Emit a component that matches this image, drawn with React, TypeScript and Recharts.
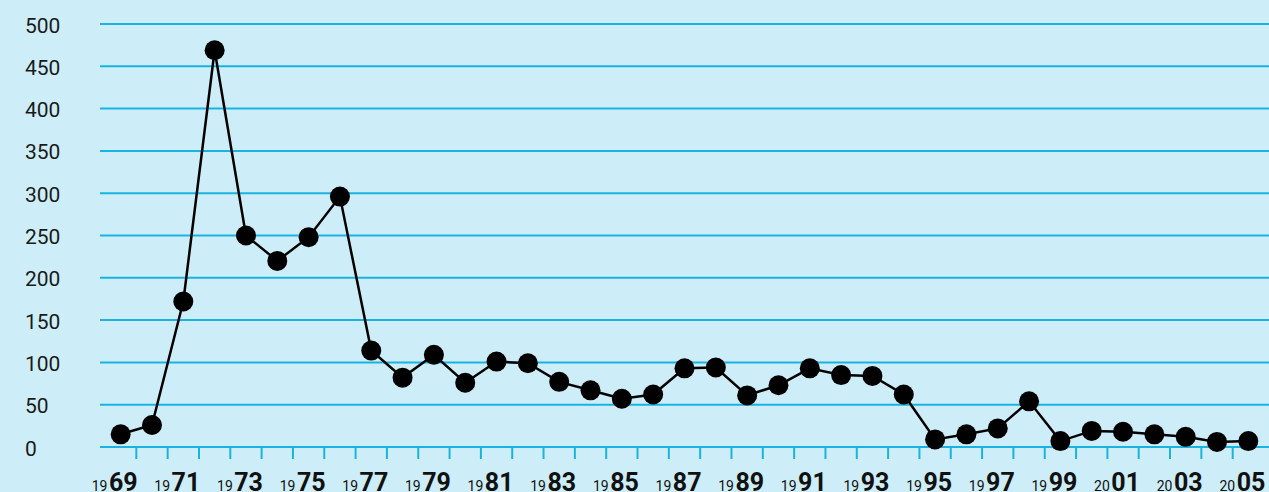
import { LineChart, Line, XAxis, YAxis, CartesianGrid } from "recharts";

const years = [
  1969, 1970, 1971, 1972, 1973, 1974, 1975, 1976, 1977, 1978, 1979, 1980, 1981,
  1982, 1983, 1984, 1985, 1986, 1987, 1988, 1989, 1990, 1991, 1992, 1993, 1994,
  1995, 1996, 1997, 1998, 1999, 2000, 2001, 2002, 2003, 2004, 2005,
];
const values = [
  15, 26, 172, 469, 250, 220, 248, 296, 114, 82, 109, 76, 101, 99, 77, 67, 57,
  62, 93, 94, 61, 73, 93, 85, 84, 62, 9, 15, 22, 54, 7, 19, 18, 15, 12, 6, 7,
];
const yTicks = [0, 50, 100, 150, 200, 250, 300, 350, 400, 450, 500];
// boundaries between years get a tick mark, odd years get a label
const boundaryTicks = years.slice(0, -1).map((y) => y + 0.5);
const labelYears = years.filter((y) => y % 2 === 1);

const data = years.map((year, i) => ({ year, value: values[i] }));

const BG = "#cdeef8";
const GRID = "#1ab3e0";
const INK = "#111";
const FONT = "Roboto, 'Noto Sans', sans-serif";

function XTick(props: any) {
  const { x, y, payload } = props;
  const v = payload.value as number;
  if (!Number.isInteger(v)) {
    return <line x1={x} x2={x} y1={y} y2={y + 12} stroke={GRID} strokeWidth={2} />;
  }
  const s = String(v);
  return (
    <text x={x + 17} y={y + 44} textAnchor="end" fill={INK} fontFamily={FONT}>
      <tspan fontSize={14}>{s.slice(0, 2)}</tspan>
      <tspan fontSize={25} fontWeight={700} dx={1.5}>
        {s.slice(2)}
      </tspan>
    </text>
  );
}

function YTick(props: any) {
  const { y, payload } = props;
  return (
    <text x={25} y={y} dy={8.5} textAnchor="start" fill="#1a1a1a" fontSize={21} fontFamily={FONT}>
      {payload.value}
    </text>
  );
}

export default function App() {
  return (
    <div style={{ position: "absolute", left: 0, top: 0, width: 1269, height: 492, background: BG }}>
      <LineChart width={1269} height={492} data={data} margin={{ top: 24, right: 0, bottom: 0, left: 0 }}>
        <CartesianGrid vertical={false} stroke={GRID} strokeWidth={2} />
        <XAxis
          dataKey="year"
          type="number"
          domain={[1968.5, 2005.5]}
          ticks={[...boundaryTicks, ...labelYears]}
          interval={0}
          padding={{ left: 5, right: 5 }}
          height={45}
          axisLine={false}
          tickLine={false}
          tickSize={0}
          tickMargin={0}
          tick={<XTick />}
        />
        <YAxis
          domain={[0, 500]}
          ticks={yTicks}
          interval={0}
          width={100}
          axisLine={false}
          tickLine={false}
          tick={<YTick />}
        />
        <Line
          dataKey="value"
          stroke="#000"
          strokeWidth={2.5}
          dot={{ r: 10, fill: "#000", stroke: "none" }}
          isAnimationActive={false}
        />
      </LineChart>
    </div>
  );
}
